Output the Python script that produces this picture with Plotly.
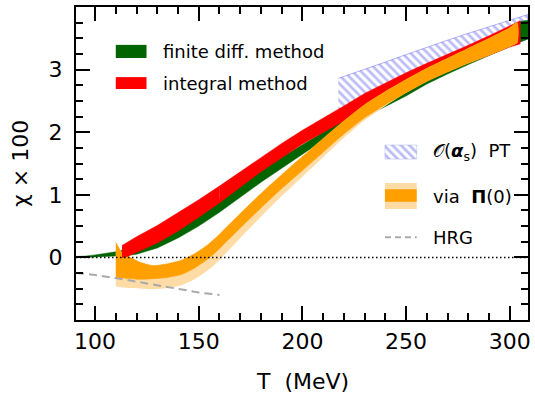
import plotly.graph_objects as go

# ---------------- data ----------------
# finite difference method (green band)
T_fd = [90.8, 95, 100, 105, 110, 115, 120, 130, 140, 150, 160, 170, 180, 190, 200,
        210, 220, 230, 240, 250, 260, 270, 280, 290, 300, 305, 308.8]
fd_lo = [0.0, 0.0, 0.0, 0.01, 0.02, 0.03, 0.05, 0.15, 0.31, 0.50, 0.72, 0.96, 1.20, 1.43, 1.65,
         1.87, 2.07, 2.24, 2.41, 2.58, 2.77, 2.93, 3.08, 3.23, 3.37, 3.44, 3.49]
fd_hi = [0.015, 0.02, 0.04, 0.06, 0.09, 0.13, 0.17, 0.32, 0.50, 0.70, 0.92, 1.15, 1.38, 1.60, 1.80,
         2.00, 2.20, 2.38, 2.56, 2.73, 2.90, 3.06, 3.22, 3.38, 3.56, 3.77, 3.79]

# integral method (red band)
T_int = [113, 116, 120, 130, 140, 150, 160, 170, 180, 190, 200, 210, 220, 230, 240,
         250, 260, 270, 280, 290, 300, 305]
int_lo = [0.0, 0.02, 0.08, 0.23, 0.42, 0.64, 0.87, 1.12, 1.37, 1.59, 1.81, 1.99, 2.18, 2.33, 2.48,
          2.64, 2.82, 2.97, 3.11, 3.23, 3.36, 3.41]
int_hi = [0.19, 0.25, 0.33, 0.51, 0.71, 0.92, 1.14, 1.37, 1.60, 1.82, 2.03, 2.22, 2.42, 2.62, 2.79,
          2.95, 3.10, 3.24, 3.39, 3.54, 3.70, 3.78]
SPLIT_T = 160  # low-T part of the red band lies above the orange band

# via Pi(0) (orange band; inner and outer error)
T_pi = [110, 113, 117, 122, 128, 135, 142, 148, 155, 160, 170, 180, 190, 200, 210,
        220, 230, 240, 250, 260, 270, 280, 290, 300, 303.6]
pi_hi = [0.24, 0.08, 0.0, -0.08, -0.13, -0.10, -0.04, 0.06, 0.22, 0.37, 0.70, 1.02, 1.32, 1.61, 1.90,
         2.18, 2.44, 2.65, 2.84, 3.02, 3.18, 3.34, 3.50, 3.67, 3.75]
pi_lo = [-0.32, -0.33, -0.34, -0.35, -0.34, -0.32, -0.27, -0.17, -0.01, 0.14, 0.47, 0.79, 1.10, 1.39, 1.68,
         1.97, 2.23, 2.44, 2.63, 2.81, 2.96, 3.10, 3.23, 3.37, 3.43]
pi_lo_outer = [-0.46, -0.48, -0.49, -0.50, -0.51, -0.49, -0.44, -0.35, -0.19, -0.04, 0.31, 0.65, 0.98, 1.29, 1.60,
               1.91, 2.19, 2.42, 2.63, 2.81, 2.96, 3.10, 3.23, 3.37, 3.43]

# O(alpha_s) perturbation theory (hatched band)
T_pt = [217.3, 230, 240, 250, 260, 270, 280, 290, 300, 308.8]
pt_lo = [2.34, 2.48, 2.62, 2.75, 2.88, 3.00, 3.13, 3.25, 3.38, 3.49]
pt_hi = [2.86, 3.00, 3.12, 3.24, 3.36, 3.47, 3.58, 3.68, 3.79, 3.88]

# hadron resonance gas (dashed)
T_hrg = [90.8, 100, 110, 120, 130, 140, 150, 160]
hrg = [-0.25, -0.28, -0.33, -0.39, -0.45, -0.51, -0.56, -0.60]

x_ticks = [100, 150, 200, 250, 300]
y_ticks = [0, 1, 2, 3]
x_range = [90.8, 308.8]
y_range = [-1.0, 4.0]

legend_labels = ["finite diff. method", "integral method",
                 "\U0001D4AA(<b><i>α</i></b><sub>s</sub>)  PT", "via  <b>Π</b>(0)", "HRG"]

# ---------------- styling ----------------
GREEN = "#006400"
RED = "#ff0000"
ORANGE = "#ffa000"
ORANGE_LIGHT = "#ffdba6"
HATCH = "#7878f0"
FONT = "DejaVu Sans"


def band(x, lo, hi):
    return list(x) + list(x)[::-1], list(hi) + list(lo)[::-1]


fig = go.Figure()

# hatched PT band
bx, by = band(T_pt, pt_lo, pt_hi)
fig.add_trace(go.Scatter(x=bx, y=by, mode="lines", fill="toself",
                         line=dict(color="rgba(120,120,240,0.7)", width=0.8),
                         fillcolor="rgba(0,0,0,0)",
                         fillpattern=dict(shape="\\", fgcolor=HATCH, bgcolor="rgba(0,0,0,0)",
                                          size=6, solidity=0.45),
                         hoverinfo="skip", showlegend=False))

# green band
bx, by = band(T_fd, fd_lo, fd_hi)
fig.add_trace(go.Scatter(x=bx, y=by, mode="lines", fill="toself", fillcolor=GREEN,
                         line=dict(color=GREEN, width=0.5), hoverinfo="skip", showlegend=False))

# red band, high-T part (below orange)
idx_hi = [i for i, t in enumerate(T_int) if t >= SPLIT_T]
bx, by = band([T_int[i] for i in idx_hi], [int_lo[i] for i in idx_hi], [int_hi[i] for i in idx_hi])
fig.add_trace(go.Scatter(x=bx, y=by, mode="lines", fill="toself", fillcolor=RED,
                         line=dict(color=RED, width=0.5), hoverinfo="skip", showlegend=False))

# orange outer band
bx, by = band(T_pi, pi_lo_outer, pi_hi)
fig.add_trace(go.Scatter(x=bx, y=by, mode="lines", fill="toself", fillcolor=ORANGE_LIGHT,
                         line=dict(color=ORANGE_LIGHT, width=0, shape="spline", smoothing=0.6),
                         hoverinfo="skip", showlegend=False))
# orange inner band
bx, by = band(T_pi, pi_lo, pi_hi)
fig.add_trace(go.Scatter(x=bx, y=by, mode="lines", fill="toself", fillcolor=ORANGE,
                         line=dict(color=ORANGE, width=0.5, shape="spline", smoothing=0.6),
                         hoverinfo="skip", showlegend=False))

# red band, low-T part (above orange)
idx_lo = [i for i, t in enumerate(T_int) if t <= SPLIT_T]
bx, by = band([T_int[i] for i in idx_lo], [int_lo[i] for i in idx_lo], [int_hi[i] for i in idx_lo])
fig.add_trace(go.Scatter(x=bx, y=by, mode="lines", fill="toself", fillcolor=RED,
                         line=dict(color=RED, width=0.5), hoverinfo="skip", showlegend=False))

# HRG dashed line
fig.add_trace(go.Scatter(x=T_hrg, y=hrg, mode="lines",
                         line=dict(color="#aaaaaa", width=2, dash="8px,5px"),
                         hoverinfo="skip", showlegend=False))

# zero line (dotted)
fig.add_shape(type="line", xref="paper", yref="y", x0=0, x1=1, y0=0, y1=0,
              line=dict(color="black", width=1.5, dash="1.5px,2.5px"), layer="above")

# ---------------- custom legend (aux axes in plot-fraction units) ----------------
def swatch(x0, x1, y0, y1, **kw):
    fig.add_trace(go.Scatter(x=[x0, x1, x1, x0, x0], y=[y0, y0, y1, y1, y0], mode="lines",
                             fill="toself", xaxis="x2", yaxis="y2", hoverinfo="skip",
                             showlegend=False, **kw))

swatch(0.088, 0.156, 0.837, 0.879, fillcolor=GREEN, line=dict(color=GREEN, width=0))
swatch(0.088, 0.156, 0.738, 0.776, fillcolor=RED, line=dict(color=RED, width=0))
swatch(0.6835, 0.7538, 0.514, 0.559, fillcolor="rgba(0,0,0,0)",
       line=dict(color="rgba(120,120,240,0.5)", width=0.5),
       fillpattern=dict(shape="\\", fgcolor=HATCH, bgcolor="rgba(0,0,0,0)", size=6, solidity=0.45))
swatch(0.6835, 0.7538, 0.3546, 0.4377, fillcolor=ORANGE_LIGHT, line=dict(color=ORANGE_LIGHT, width=0))
swatch(0.6835, 0.7538, 0.378, 0.4176, fillcolor=ORANGE, line=dict(color=ORANGE, width=0))
fig.add_trace(go.Scatter(x=[0.6835, 0.7538], y=[0.264, 0.264], mode="lines", xaxis="x2", yaxis="y2",
                         line=dict(color="#aaaaaa", width=2, dash="6px,4px"),
                         hoverinfo="skip", showlegend=False))

legend_pos = [(0.189, 0.858), (0.189, 0.757), (0.786, 0.536), (0.786, 0.393), (0.786, 0.264)]
for (lx, ly), txt in zip(legend_pos, legend_labels):
    fig.add_annotation(x=lx, y=ly, xref="x2", yref="y2", text=txt, showarrow=False,
                       xanchor="left", yanchor="middle", font=dict(family=FONT, size=18, color="black"))

# axis titles
fig.add_annotation(x=0.5, y=-0.195, xref="paper", yref="paper", text="T  (MeV)", showarrow=False,
                   xanchor="center", yanchor="middle", font=dict(family=FONT, size=22, color="black"))
fig.add_annotation(x=-0.123, y=0.5, xref="paper", yref="paper", text="χ × 100", showarrow=False,
                   textangle=-90, xanchor="center", yanchor="middle",
                   font=dict(family=FONT, size=22, color="black"))

axis_common = dict(showline=True, linecolor="black", linewidth=2, mirror="allticks",
                   ticks="inside", ticklen=14, tickwidth=2, tickcolor="black",
                   showgrid=False, zeroline=False,
                   tickfont=dict(family=FONT, size=22, color="black"))

fig.update_layout(
    width=535, height=393,
    margin=dict(l=76, r=4, t=7, b=73),
    paper_bgcolor="white", plot_bgcolor="white",
    showlegend=False,
    xaxis=dict(range=x_range, tickvals=x_ticks, ticklabelstandoff=1,
               minor=dict(dtick=10, tick0=0, ticks="inside", ticklen=7, tickwidth=2, tickcolor="black"),
               **axis_common),
    yaxis=dict(range=y_range, tickvals=y_ticks, ticklabelstandoff=7,
               minor=dict(dtick=0.25, tick0=0, ticks="inside", ticklen=7, tickwidth=2, tickcolor="black"),
               **axis_common),
    xaxis2=dict(range=[0, 1], overlaying="x", visible=False, fixedrange=True),
    yaxis2=dict(range=[0, 1], overlaying="y", visible=False, fixedrange=True),
)

fig.write_html("out.html", config={"displayModeBar": False},
               post_script="document.body.style.margin='0px';")
